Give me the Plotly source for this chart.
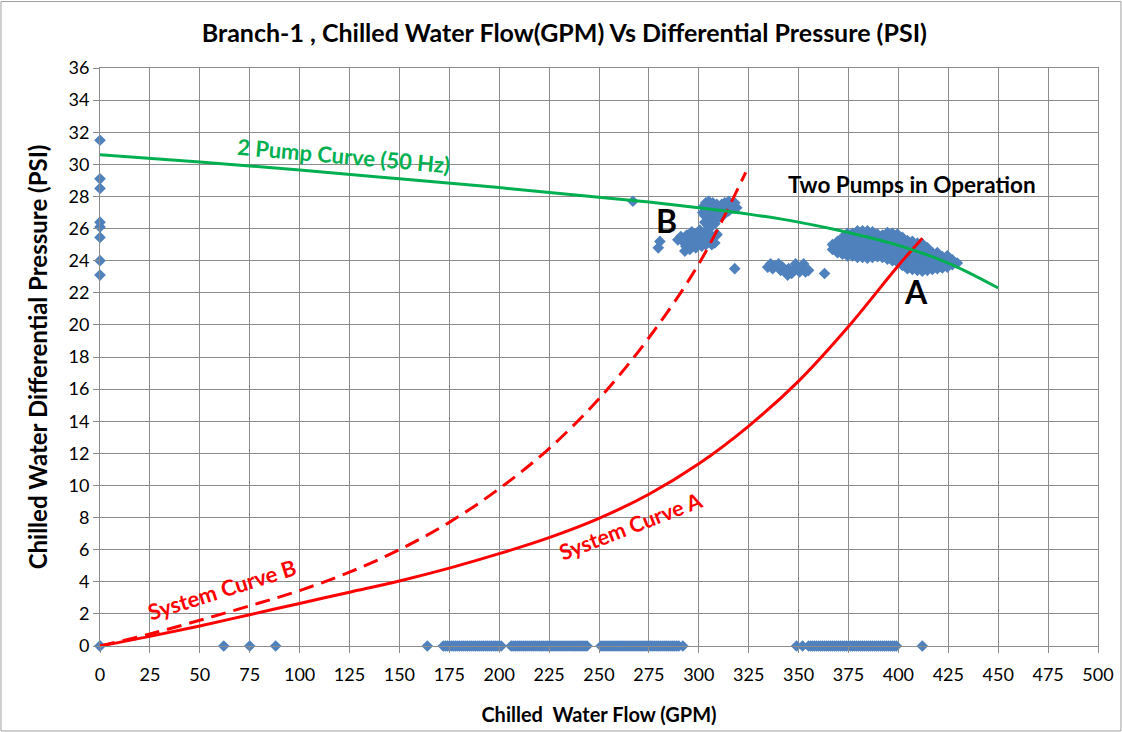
import plotly.graph_objects as go

# ---------------- data ----------------
x_ticks = list(range(0, 501, 25))
y_ticks = list(range(0, 37, 2))

# 2-pump curve (50 Hz)
pump_flow = [0, 50, 100, 150, 200, 250, 275, 300, 325, 350, 375, 400, 425, 450]
pump_dp = [30.6, 30.15, 29.65, 29.1, 28.55, 27.95, 27.65, 27.3, 26.9, 26.4, 25.75, 24.95, 23.85, 22.3]

# System curve A (solid)
sysA_flow = [0, 25, 50, 75, 100, 125, 150, 175, 200, 225, 250, 275, 300, 325, 350, 375, 400, 412]
sysA_dp = [0, 0.6, 1.25, 1.95, 2.65, 3.35, 4.05, 4.85, 5.75, 6.75, 7.95, 9.45, 11.35, 13.7,
           16.5, 19.9, 23.7, 25.4]

# System curve B (dashed)
sysB_flow = [0, 25, 50, 75, 100, 125, 150, 175, 200, 225, 250, 275, 300, 323.5]
sysB_dp = [0, 0.75, 1.6, 2.5, 3.45, 4.6, 6.0, 7.7, 9.8, 12.3, 15.4, 19.2, 23.8, 29.5]

# measured points at zero flow
zero_flow_dp = [0, 23.1, 24.0, 25.45, 26.1, 26.4, 28.5, 29.1, 31.5]

# measured points at zero differential pressure
zero_dp_flow = [0, 62, 75, 88, 164,
                172, 173, 174, 175, 176, 177, 178, 179, 180, 181, 182, 183, 184, 185, 186,
                187, 188, 189, 190, 191, 192, 193, 194, 195, 196, 197, 198, 199, 200, 201,
                206, 207, 208, 209, 210, 211, 212, 213, 214, 215, 216, 217, 218, 219, 220,
                221, 222, 223, 224, 225, 226, 227, 228, 229, 230, 231, 232, 233, 234, 235,
                236, 237, 238, 239, 240, 241, 242, 243, 244,
                251, 252, 253, 254, 255, 256, 257, 258, 259, 260, 261, 262, 263, 264, 265,
                266, 267, 268, 269, 270, 271, 272, 273, 274, 275, 276, 277, 278, 279, 280,
                281, 282, 283, 284, 285, 286, 287, 288, 289, 290, 292,
                349, 352, 355, 356, 357, 358, 359, 360, 361, 362, 363, 364, 365, 366, 367,
                368, 369, 370, 371, 372, 373, 374, 375, 376, 377, 378, 379, 380, 381, 382,
                383, 384, 385, 386, 387, 388, 389, 390, 391, 392, 393, 394, 395, 396, 397,
                398, 399, 412]

# scattered points around B
b_single_flow = [267, 280.5, 279.7, 293, 309, 318]
b_single_dp = [27.7, 25.2, 24.8, 24.6, 25.65, 23.5]

# upper cluster near B
b_up_flow = [302, 302.5, 303, 303.5, 304, 305, 305, 305.5, 306, 306.5, 307, 307, 308, 308,
             308.5, 309, 309.5, 310, 310.5, 311, 311.5, 312, 312.5, 313, 313.5, 314, 315,
             315, 316, 317, 318, 319, 303, 304.5, 306]
b_up_dp = [27.0, 27.4, 26.8, 27.6, 27.2, 27.7, 26.9, 26.5, 27.4, 27.0, 27.6, 26.6, 27.3,
           26.3, 26.9, 27.5, 27.1, 26.7, 27.3, 27.0, 27.5, 26.8, 27.2, 27.6, 27.0, 27.4,
           27.7, 27.1, 27.4, 27.3, 27.6, 27.3, 26.4, 26.2, 26.1]

# lower cluster near B
b_low_flow = [289.5, 291, 292, 293, 293.5, 294, 295, 295.5, 296, 296.5, 297, 297.5, 298,
              298.5, 299, 299.5, 300, 300.5, 301, 301.5, 302, 302.5, 303, 303.5, 304, 304.5,
              305, 306, 306.5, 307, 308, 309]
b_low_dp = [25.3, 25.5, 25.2, 25.4, 24.9, 25.6, 25.1, 24.7, 25.4, 25.8, 25.0, 25.6, 25.3,
            24.8, 25.7, 25.1, 25.5, 25.9, 25.2, 24.9, 25.6, 25.3, 25.8, 25.0, 25.5, 25.9,
            25.2, 25.6, 25.0, 25.4, 25.1, 25.6]

# middle cluster
mid_flow = [334.5, 336, 337, 338.5, 340, 341, 342, 343.5, 344.5, 345, 346.5, 347.5, 348.5,
            349.5, 350.5, 351.5, 352.5, 353.5, 355, 363]
mid_dp = [23.6, 23.8, 23.5, 23.7, 23.8, 23.4, 23.6, 23.3, 23.1, 23.5, 23.2, 23.4, 23.8,
          23.6, 23.3, 23.5, 23.8, 23.3, 23.4, 23.2]

# cluster A (two pumps in operation), listed column by column
a_cols = [367, 369.5, 372, 374.5, 377, 379.5, 382, 384.5, 387, 389.5, 392, 394.5, 397,
          399.5, 402, 404.5, 407, 409.5, 412, 414.5, 417, 419.5, 422, 424.5, 427, 429.5]
a_dp_cols = [
    [24.7, 25.0],
    [24.5, 24.85, 25.2],
    [24.4, 24.75, 25.1, 25.45],
    [24.3, 24.65, 25.0, 25.35, 25.7],
    [24.3, 24.65, 25.0, 25.35, 25.7],
    [24.2, 24.55, 24.9, 25.25, 25.6, 25.85],
    [24.2, 24.55, 24.9, 25.25, 25.6, 25.85],
    [24.15, 24.5, 24.85, 25.2, 25.55, 25.85],
    [24.2, 24.55, 24.9, 25.25, 25.6, 25.8],
    [24.25, 24.6, 24.95, 25.3, 25.65],
    [24.2, 24.55, 24.9, 25.25, 25.6],
    [24.1, 24.45, 24.8, 25.15, 25.5, 25.75],
    [24.0, 24.35, 24.7, 25.05, 25.4, 25.7],
    [23.9, 24.25, 24.6, 24.95, 25.3, 25.65],
    [23.7, 24.05, 24.4, 24.75, 25.1, 25.45],
    [23.5, 23.85, 24.2, 24.55, 24.9, 25.25],
    [23.45, 23.8, 24.15, 24.5, 24.85, 25.2],
    [23.4, 23.75, 24.1, 24.45, 24.8, 25.1],
    [23.35, 23.7, 24.05, 24.4, 24.75, 25.05],
    [23.4, 23.75, 24.1, 24.45, 24.8],
    [23.45, 23.8, 24.15, 24.5],
    [23.5, 23.85, 24.2, 24.5],
    [23.55, 23.9, 24.25],
    [23.6, 23.95, 24.3],
    [23.75, 24.05],
    [23.85],
]

# ---------------- assemble measured points ----------------
meas_x, meas_y = [], []
meas_x += [0] * len(zero_flow_dp); meas_y += zero_flow_dp
meas_x += zero_dp_flow; meas_y += [0] * len(zero_dp_flow)
for fx, fy in [(b_single_flow, b_single_dp), (b_up_flow, b_up_dp),
               (b_low_flow, b_low_dp), (mid_flow, mid_dp)]:
    meas_x += fx; meas_y += fy
for c, col in zip(a_cols, a_dp_cols):
    meas_x += [c] * len(col); meas_y += col

BLUE = "#4F81BD"
RED = "#FF0000"
GREEN = "#00B050"
GRID = "#8C8C8C"
FONT = "Lato"

fig = go.Figure()
fig.add_trace(go.Scatter(x=meas_x, y=meas_y, mode="markers", cliponaxis=False,
                         marker=dict(symbol="diamond", size=9, color=BLUE, line=dict(width=0)),
                         showlegend=False, hoverinfo="x+y"))
fig.add_trace(go.Scatter(x=sysB_flow, y=sysB_dp, mode="lines",
                         line=dict(color=RED, width=3, dash="15px,8px", shape="spline", smoothing=1.0),
                         showlegend=False))
fig.add_trace(go.Scatter(x=sysA_flow, y=sysA_dp, mode="lines",
                         line=dict(color=RED, width=3, shape="spline", smoothing=1.0), showlegend=False))
fig.add_trace(go.Scatter(x=pump_flow, y=pump_dp, mode="lines",
                         line=dict(color=GREEN, width=3, shape="spline", smoothing=1.0), showlegend=False))

ann = [
    dict(x=122, y=30.55, text="<b>2 Pump Curve (50 Hz)</b>", textangle=5,
         font=dict(color=GREEN, size=22)),
    dict(x=407, y=28.77, text="<b>Two Pumps in Operation</b>", font=dict(color="black", size=22.5)),
    dict(x=284, y=26.5, text="<b>B</b>", font=dict(color="black", size=32)),
    dict(x=409, y=22.1, text="<b>A</b>", font=dict(color="black", size=32)),
    dict(x=61, y=3.5, text="<b>System Curve B</b>", textangle=-17.5,
         font=dict(color=RED, size=22)),
    dict(x=266, y=7.5, text="<b>System Curve A</b>", textangle=-21,
         font=dict(color=RED, size=21.5)),
]
for a in ann:
    a.update(xref="x", yref="y", showarrow=False)
    a["font"]["family"] = FONT

fig.update_layout(
    width=1122, height=732,
    margin=dict(l=100, r=24, t=68, b=86),
    paper_bgcolor="white", plot_bgcolor="white",
    font=dict(family=FONT, color="black"),
    title=dict(text="<b>Branch-1 , Chilled Water Flow(GPM) Vs Differential Pressure (PSI)</b>",
               x=0.503, xanchor="center", y=0.955, yanchor="middle",
               font=dict(size=25, family=FONT, color="black")),
    annotations=ann,
    shapes=[dict(type="rect", xref="paper", yref="paper",
                 x0=-0.0992, x1=1.0230, y0=-0.147, y1=1.115,
                 line=dict(color="#A0A0A0", width=1))],
    showlegend=False,
)
fig.update_xaxes(range=[0, 500], tickvals=x_ticks, ticktext=[str(v) for v in x_ticks],
                 automargin=False,
                 showgrid=True, gridcolor=GRID, gridwidth=1,
                 showline=True, linecolor=GRID, linewidth=1, mirror=True,
                 ticks="outside", ticklen=6, tickcolor=GRID, zeroline=False,
                 ticklabelstandoff=6,
                 tickfont=dict(size=18, family=FONT, color="black"),
                 title=dict(text="<b>Chilled  Water Flow (GPM)</b>", standoff=24,
                            font=dict(size=20, family=FONT, color="black")))
fig.update_yaxes(range=[0, 36], tickvals=y_ticks, ticktext=[str(v) for v in y_ticks],
                 automargin=False,
                 showgrid=True, gridcolor=GRID, gridwidth=1,
                 showline=True, linecolor=GRID, linewidth=1, mirror=True,
                 ticks="outside", ticklen=6, tickcolor=GRID, zeroline=False,
                 tickfont=dict(size=18, family=FONT, color="black"),
                 title=dict(text="<b>Chilled Water Differential Pressure (PSI)</b>", standoff=14,
                            font=dict(size=24, family=FONT, color="black")))

fig.write_html("out.html")
